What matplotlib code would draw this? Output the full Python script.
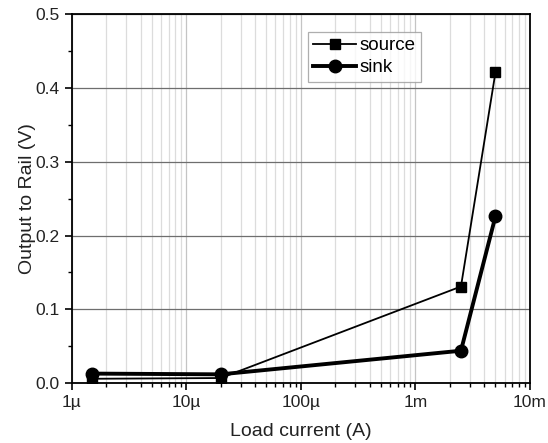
import matplotlib
matplotlib.use("Agg")
import matplotlib.pyplot as plt
from matplotlib.ticker import FixedLocator, FixedFormatter, LogLocator, MultipleLocator, NullFormatter

plt.rcParams["font.family"] = ["Liberation Sans", "DejaVu Sans"]

# load current (A) and output-to-rail drop (V)
current = [1.5e-6, 20e-6, 2.5e-3, 5e-3]
source_v = [0.006, 0.007, 0.131, 0.421]
sink_v = [0.013, 0.012, 0.044, 0.226]

x_ticks = [1e-6, 1e-5, 1e-4, 1e-3, 1e-2]
x_labels = ["1\u00b5", "10\u00b5", "100\u00b5", "1m", "10m"]

fig = plt.figure(figsize=(5.48, 4.43), dpi=100)
ax = fig.add_axes([0.131, 0.135, 0.836, 0.833])

ax.plot(current, source_v, color="black", lw=1.3, marker="s", ms=6.5,
        label="source", zorder=3)
ax.plot(current, sink_v, color="black", lw=2.8, marker="o", ms=9,
        label="sink", zorder=3)

ax.set_xscale("log")
ax.set_xlim(1e-6, 1e-2)
ax.set_ylim(0, 0.5)

ax.xaxis.set_major_locator(FixedLocator(x_ticks))
ax.xaxis.set_major_formatter(FixedFormatter(x_labels))
ax.xaxis.set_minor_locator(LogLocator(base=10, subs=range(2, 10), numticks=20))
ax.xaxis.set_minor_formatter(NullFormatter())
ax.yaxis.set_major_locator(MultipleLocator(0.1))
ax.yaxis.set_minor_locator(MultipleLocator(0.05))
ax.yaxis.set_major_formatter(plt.FuncFormatter(lambda v, p: f"{v:.1f}"))

# grid: dark horizontals, pale verticals at every decade step
ax.grid(axis="y", which="major", color="#6e6e6e", lw=0.9)
ax.grid(axis="x", which="major", color="#c4c4c4", lw=0.9)
ax.grid(axis="x", which="minor", color="#dcdcdc", lw=0.9)
ax.set_axisbelow(True)

ax.tick_params(which="major", direction="out", length=5, width=1.2,
               labelsize=12.5, labelcolor="#222222")
ax.tick_params(which="minor", direction="out", length=3, width=1)
for s in ax.spines.values():
    s.set_linewidth(1.3)

ax.set_xlabel("Load current (A)", fontsize=14, color="#222222", labelpad=9)
ax.set_ylabel("Output to Rail (V)", fontsize=14, color="#222222", labelpad=0)

leg = ax.legend(loc="upper left", bbox_to_anchor=(0.515, 0.953), fancybox=False,
                fontsize=13.5, handlelength=2.3, handletextpad=0.15,
                borderpad=0.3, labelspacing=0.25, borderaxespad=0)
leg.get_frame().set_edgecolor("#9a9a9a")
leg.get_frame().set_linewidth(0.9)

fig.savefig("out.png", dpi=100)
